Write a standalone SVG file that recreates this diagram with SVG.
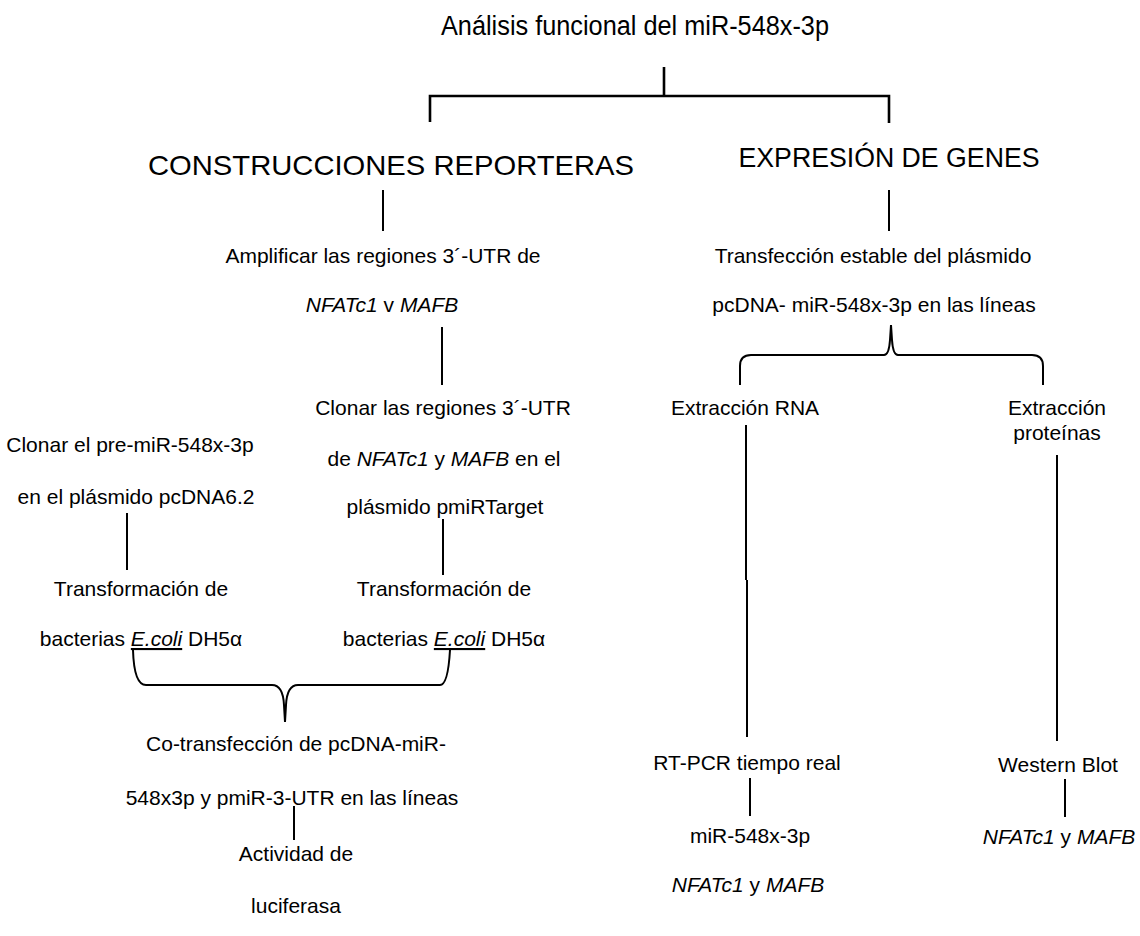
<svg xmlns="http://www.w3.org/2000/svg" width="1140" height="936" viewBox="0 0 1140 936">
<style>
text{font-family:"Liberation Sans",Arial,sans-serif;fill:#000;text-anchor:middle}
.t{font-size:21px}
.h{font-size:27px}
.i{font-style:italic}
.u{font-style:italic;text-decoration:underline}
.ln{fill:none;stroke:#000;stroke-width:2}
.bk{fill:none;stroke:#000;stroke-width:2.6}
</style>
<rect width="1140" height="936" fill="#fff"/>
<g id="connectors">
<path class="bk" d="M664,67 V96 M430,122 V96 H889 V123"/>
<path class="ln" d="M383,190 V231 M889,190 V231 M442,327 V385"/>
<path class="ln" d="M740,385 V366 Q740,355 751,355 H884 Q889,355 890,340 L891,325 L892,340 Q893,355 898,355 H1032 Q1043,355 1043,366 V385"/>
<path class="ln" d="M746,425 V580 M747,580 V737 M1057,455 V741"/>
<path class="ln" d="M127,513 V570 M443,519 V575"/>
<path class="ln" d="M133,650 Q134,685 146,685 H272 Q283,685 284,705 L285,722 L286,705 Q287,685 298,685 H440 Q448,685 450,650"/>
<path class="ln" d="M294,806 V840 M750,778 V816 M1065,779 V817"/>
</g>
<g id="title"><text class="h" x="635" y="35" textLength="388" lengthAdjust="spacingAndGlyphs">Análisis funcional del miR-548x-3p</text></g>
<g id="construcciones"><text x="391" y="175" style="font-size:28.5px" textLength="486" lengthAdjust="spacingAndGlyphs">CONSTRUCCIONES REPORTERAS</text></g>
<g id="expresion"><text class="h" x="889" y="167" textLength="301" lengthAdjust="spacingAndGlyphs">EXPRESIÓN DE GENES</text></g>
<g id="amplificar">
<text class="t" x="383" y="263">Amplificar las regiones 3´-UTR de</text>
<text class="t" x="382" y="312"><tspan class="i">NFATc1</tspan> v <tspan class="i">MAFB</tspan></text>
</g>
<g id="transfeccion">
<text class="t" x="873" y="263">Transfección estable del plásmido</text>
<text class="t" x="874" y="312">pcDNA- miR-548x-3p en las líneas</text>
</g>
<g id="clonar-utr">
<text class="t" x="443" y="415">Clonar las regiones 3´-UTR</text>
<text class="t" x="444" y="466">de <tspan class="i">NFATc1</tspan> y <tspan class="i">MAFB</tspan> en el</text>
<text class="t" x="445" y="514">plásmido pmiRTarget</text>
</g>
<g id="clonar-pre">
<text class="t" x="130" y="452">Clonar el pre-miR-548x-3p</text>
<text class="t" x="136" y="504">en el plásmido pcDNA6.2</text>
</g>
<g id="transf-left">
<text class="t" x="141" y="596">Transformación de</text>
<text class="t" x="141" y="646">bacterias <tspan class="u">E.coli</tspan> DH5α</text>
</g>
<g id="transf-right">
<text class="t" x="444" y="596">Transformación de</text>
<text class="t" x="444" y="646">bacterias <tspan class="u">E.coli</tspan> DH5α</text>
</g>
<g id="cotransfeccion">
<text class="t" x="296" y="751">Co-transfección de pcDNA-miR-</text>
<text class="t" x="292" y="805">548x3p y pmiR-3-UTR en las líneas</text>
</g>
<g id="actividad">
<text class="t" x="296" y="861">Actividad de</text>
<text class="t" x="296" y="913">luciferasa</text>
</g>
<g id="extraccion-rna"><text class="t" x="745" y="415">Extracción RNA</text></g>
<g id="extraccion-prot">
<text class="t" x="1057" y="415">Extracción</text>
<text class="t" x="1057" y="440">proteínas</text>
</g>
<g id="rtpcr"><text class="t" x="747" y="770">RT-PCR tiempo real</text></g>
<g id="rtpcr-targets">
<text class="t" x="750" y="843">miR-548x-3p</text>
<text class="t" x="748" y="892"><tspan class="i">NFATc1</tspan> y <tspan class="i">MAFB</tspan></text>
</g>
<g id="western"><text class="t" x="1058" y="772">Western Blot</text></g>
<g id="western-targets"><text class="t" x="1059" y="844"><tspan class="i">NFATc1</tspan> y <tspan class="i">MAFB</tspan></text></g>
</svg>
